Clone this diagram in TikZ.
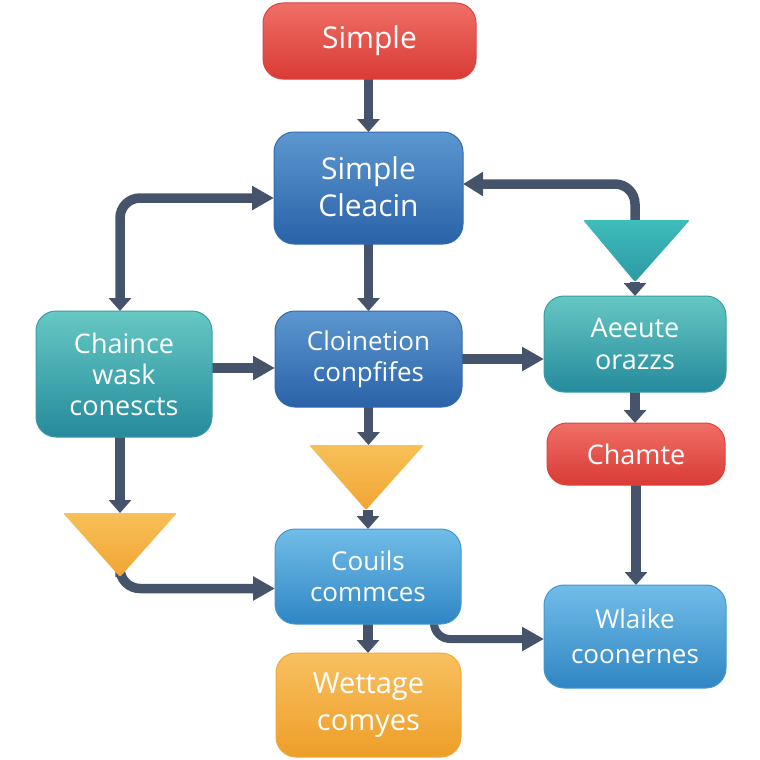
\documentclass[tikz,border=0pt]{standalone}
\usepackage{fontspec}
\setmainfont{Open Sans}
\usetikzlibrary{arrows.meta,calc,backgrounds}
\definecolor{conn}{HTML}{46546B}
\definecolor{redt}{HTML}{EF6F66}\definecolor{redm}{HTML}{E64C45}\definecolor{redb}{HTML}{D93B35}
\definecolor{blut}{HTML}{5C97D0}\definecolor{blum}{HTML}{3E7EC0}\definecolor{blub}{HTML}{2A62A8}
\definecolor{tealt}{HTML}{66C8C3}\definecolor{tealm}{HTML}{3BAAB0}\definecolor{tealb}{HTML}{258A9C}
\definecolor{skyt}{HTML}{72BDE8}\definecolor{skym}{HTML}{4FA8DE}\definecolor{skyb}{HTML}{2F86C4}
\definecolor{orat}{HTML}{F8C060}\definecolor{oram}{HTML}{F4AE3E}\definecolor{orab}{HTML}{EE9E28}
\definecolor{trit}{HTML}{F8C058}\definecolor{trib}{HTML}{F0A533}
\definecolor{tqt}{HTML}{3FBDBB}\definecolor{tqb}{HTML}{2C98A4}
\tikzset{
  fill red/.style={top color=redt,middle color=redm,bottom color=redb,draw=redb!85!redt},
  fill blue/.style={top color=blut,middle color=blum,bottom color=blub,draw=blub!85!blut},
  fill teal/.style={top color=tealt,middle color=tealm,bottom color=tealb,draw=tealb!70!tealt},
  fill sky/.style={top color=skyt,middle color=skym,bottom color=skyb,draw=skyb!70!skyt},
  fill orange/.style={top color=orat,middle color=oram,bottom color=orab,draw=orab!70!orat},
  boxnode/.style={rounded corners=20pt,line width=1pt,inner sep=0pt,outer sep=0pt,align=center,text=white},
  link/.style={draw=conn,line width=9.5pt,rounded corners=20pt},
  hhead/.style={-{Triangle[length=22pt,width=23pt]}},
  vhead/.style={-{Triangle[length=13pt,width=22pt]}},
}
\newcommand{\bx}[9]{% name,x1,y1,x2,y2,fill,size,leading,text
  \node[boxnode,fill #6,minimum width={(#4-#2)*1pt},minimum height={(#5-#3)*1pt},
    font=\fontsize{#7}{#8}\selectfont] (#1) at ({(#2+#4)/2},{-(#3+#5)/2}) {#9};
}
\newcommand{\tri}[8]{% name,x1,x2,ytop,xtip,ytip,top,bottom
  \path[top color=#7,bottom color=#8,rounded corners=2pt] (#2,-#4) -- (#3,-#4) -- (#5,-#6) -- cycle;
  \coordinate (#1top) at (#5,-#4);
  \coordinate (#1tip) at (#5,-#6);
}
\begin{document}
\begin{tikzpicture}[x=1pt,y=1pt]
\useasboundingbox (0,0) rectangle (760,-760);
\bx{n1}{263}{3}{476}{79}{red}{30}{37}{\raisebox{-2pt}{Simple}}
\bx{n2}{274}{132}{463}{244}{blue}{30}{37}{\raisebox{2pt}{Simple}\\\raisebox{2pt}{Cleacin}}
\bx{n3}{36}{311}{212}{437}{teal}{27}{31}{Chaince\\wask\\conescts}
\bx{n4}{275}{311}{462}{407}{blue}{26}{31}{Cloinetion\\conpfifes}
\bx{n5}{544}{296}{726}{392}{teal}{27}{32}{Aeeute\\orazzs}
\bx{n6}{547}{423}{725}{485}{red}{27}{32}{Chamte}
\bx{n7}{275}{529}{461}{624}{sky}{26}{31}{Couils\\commces}
\bx{n8}{544}{585}{726}{688}{sky}{26}{35}{Wlaike\\coonernes}
\bx{n9}{276}{653}{461}{757}{orange}{29}{37}{Wettage\\comyes}
\tri{ta}{583}{690}{220}{635}{282}{tqt}{tqb}
\tri{tb}{309}{424}{445}{366}{510}{trit}{trib}
\tri{tc}{63}{177}{513}{120}{577}{trit}{trib}
\begin{scope}[on background layer]
\draw[link,vhead] (n2.north |- n1.south) -- (n2.north);
\draw[link,vhead] (n2.south) -- (n2.south |- n4.north);
\draw[link,{Triangle[length=13pt,width=22pt]}-{Triangle[length=22pt,width=23pt]}]
  ($(n3.north)+(-4,0)$) |- ($(n2.west)+(0,-10)$);
\draw[link,-{Triangle[length=20pt,width=23pt]}] (tatop) |- ($(n2.east)+(0,4)$);
\draw[link,vhead] (tatip) -- (tatip |- n5.north);
\draw[link,hhead] ($(n3.east)+(0,6)$) -- ($(n4.west)+(0,-9)$);
\draw[link,hhead] (n4.east) -- (n4.east -| n5.west);
\draw[link,vhead] (n5.south) -- (n5.south |- n6.north);
\draw[link,vhead] (n6.south) -- (n6.south |- n8.north);
\draw[link,vhead] (n4.south) -- (n4.south |- tbtop);
\draw[link,vhead] (tbtip -| n7.north) -- (n7.north);
\draw[link,vhead] ($(n3.south)+(-4,0)$) -- (tctop);
\draw[link,hhead] (tctip) |- ($(n7.west)+(0,-12)$);
\draw[link,vhead] (n7.south) -- (n7.south |- n9.north);
\draw[link,hhead,line width=8pt,rounded corners=16pt] ($(n7.south east)+(-27,6)$) |- ($(n8.west)+(0,-2.5)$);
\end{scope}
\end{tikzpicture}
\end{document}
